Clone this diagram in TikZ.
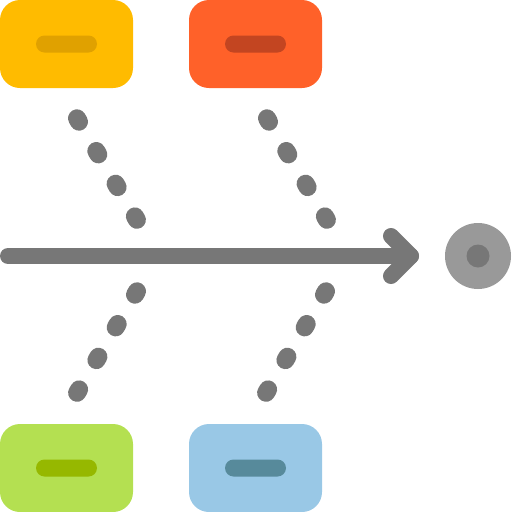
\documentclass[tikz,border=0pt]{standalone}
\definecolor{yel}{HTML}{FFBB00}
\definecolor{yelbar}{HTML}{E0A100}
\definecolor{red}{HTML}{FF6129}
\definecolor{redbar}{HTML}{C34521}
\definecolor{grn}{HTML}{B4E051}
\definecolor{grnbar}{HTML}{96B800}
\definecolor{blu}{HTML}{99C8E6}
\definecolor{blubar}{HTML}{578A9B}
\definecolor{dk}{HTML}{777777}
\definecolor{lt}{HTML}{999999}
\begin{document}
\begin{tikzpicture}[x=1pt,y=-1pt,
  card/.style={rectangle,rounded corners=20pt,minimum width=133pt,minimum height=88pt,inner sep=0pt,draw=none},
  bar/.style={rectangle,rounded corners=8.5pt,minimum width=61pt,minimum height=17pt,inner sep=0pt,draw=none},
  dotline/.style={dk,line width=18pt,line cap=round},
  shaft/.style={dk,line width=16pt,line cap=round,line join=round}]
\useasboundingbox (0,0) rectangle (512,512);
\node[card,fill=yel] (c1) at (66.5,44) {};
\node[bar,fill=yelbar] (b1) at (66.5,44) {};
\node[card,fill=red] (c2) at (255.5,44) {};
\node[bar,fill=redbar] (b2) at (255.5,44) {};
\node[card,fill=grn] (c3) at (66.5,468) {};
\node[bar,fill=grnbar] (b3) at (66.5,468) {};
\node[card,fill=blu] (c4) at (255.5,468) {};
\node[bar,fill=blubar] (b4) at (255.5,468) {};
% dots
\foreach \i in {0,1,2,3}{
  \draw[dotline] ({78+19.3*\i-1},{120+32.7*\i-1.7}) -- ({78+19.3*\i+1},{120+32.7*\i+1.7});
  \draw[dotline] ({268+19.3*\i-1},{120+32.7*\i-1.7}) -- ({268+19.3*\i+1},{120+32.7*\i+1.7});
  \draw[dotline] ({136-19.3*\i+1},{293+32.7*\i-1.7}) -- ({136-19.3*\i-1},{293+32.7*\i+1.7});
  \draw[dotline] ({325-19.3*\i+1},{293+32.7*\i-1.7}) -- ({325-19.3*\i-1},{293+32.7*\i+1.7});
}
% arrow
\coordinate (s) at (8,256);
\coordinate (t) at (411,256);
\coordinate (u) at (391,236);
\coordinate (l) at (391,276);
\draw[shaft] (s) -- (t);
\draw[shaft] (u) -- (t) -- (l);
% target
\node[circle,fill=lt,minimum size=66pt,inner sep=0pt] (g) at (478,256) {};
\node[circle,fill=dk,minimum size=23pt,inner sep=0pt] (gi) at (478,256) {};
\end{tikzpicture}
\end{document}
